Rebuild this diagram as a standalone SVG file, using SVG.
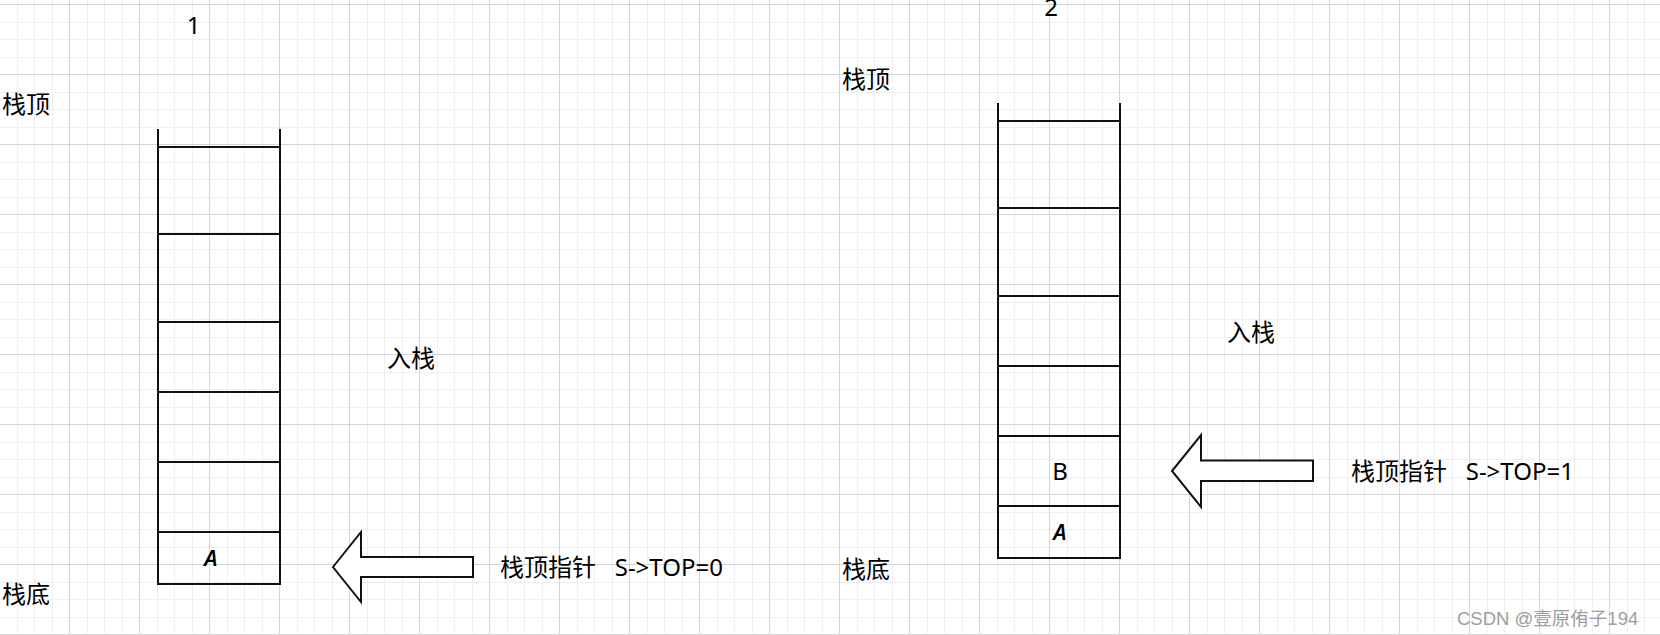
<svg xmlns="http://www.w3.org/2000/svg" width="1660" height="635" viewBox="0 0 1660 635">
<style>
.ln{stroke:#111;stroke-width:2;fill:none}
.ar{stroke:#111;stroke-width:2;fill:#fff;stroke-linejoin:miter}
.t{font-family:"Noto Sans","Noto Sans CJK SC",sans-serif;font-size:24px;fill:#000;white-space:pre}
.it{font-family:"Noto Sans","DejaVu Sans",sans-serif;font-size:22px;font-style:italic;font-weight:600;fill:#000}
.wm{font-family:"Liberation Sans","Noto Sans CJK SC",sans-serif;font-size:18.5px;fill:#9e9e9e}
</style>
<defs>
<pattern id="grid" patternUnits="userSpaceOnUse" x="-1" y="4" width="70" height="70">
<path d="M18.5 0V70M35.5 0V70M53.5 0V70M0 18.5H70M0 35.5H70M0 53.5H70" stroke="#efefef" stroke-width="1" fill="none"/>
<path d="M0.5 0V70M0 0.5H70" stroke="#d6d6d6" stroke-width="1" fill="none"/>
</pattern>
</defs>
<rect width="1660" height="635" fill="#fff"/>
<rect width="1660" height="635" fill="url(#grid)"/>

<g id="stack1">
<path class="ln" d="M158 129V584H280V129M158 147H280M158 234H280M158 322H280M158 392H280M158 462H280M158 532H280"/>
<text class="it" x="211" y="566" text-anchor="middle">A</text>
</g>

<g id="stack2">
<path class="ln" d="M998 103V558H1120V103M998 121H1120M998 208H1120M998 296H1120M998 366H1120M998 436H1120M998 506H1120"/>
<text class="t" x="1060" y="480" text-anchor="middle">B</text>
<text class="it" x="1060" y="540" text-anchor="middle">A</text>
</g>

<g id="connectors">
<polygon id="arrow1" class="ar" points="333,567 361,532 361,557 473,557 473,577 361,577 361,602"/>
<polygon id="arrow2" class="ar" points="1172,471 1201,435 1201,460.5 1313,460.5 1313,481 1201,481 1201,507"/>
</g>

<g id="labels1">
<text class="t" x="193.5" y="34" text-anchor="middle">1</text>
<text class="t" x="2" y="113">栈顶</text>
<text class="t" x="2" y="603">栈底</text>
<text class="t" x="387" y="367">入栈</text>
<text class="t" x="500" y="576">栈顶指针   S-&gt;TOP=0</text>
</g>

<g id="labels2">
<text class="t" x="1051" y="15.5" text-anchor="middle">2</text>
<text class="t" x="842" y="87.5">栈顶</text>
<text class="t" x="842" y="578">栈底</text>
<text class="t" x="1227" y="340.5">入栈</text>
<text class="t" x="1351" y="480">栈顶指针   S-&gt;TOP=1</text>
</g>

<text class="wm" x="1457" y="625">CSDN @壹原侑子194</text>
</svg>
